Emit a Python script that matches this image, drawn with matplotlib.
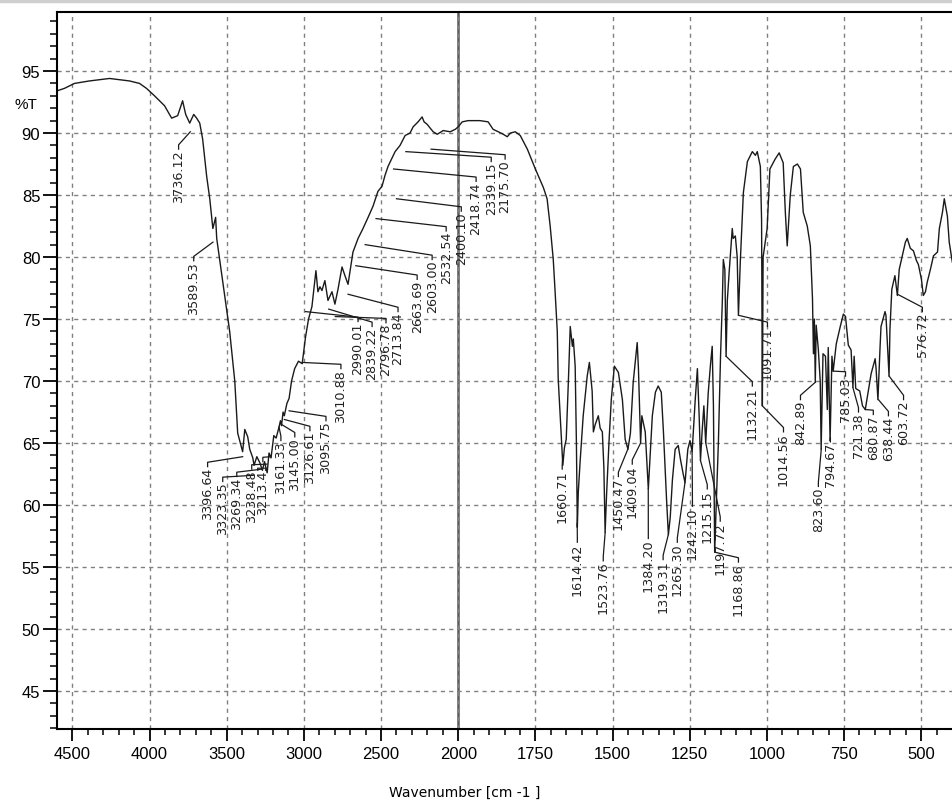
import numpy as np
import matplotlib
matplotlib.use('Agg')
import matplotlib.pyplot as plt
from matplotlib.ticker import FixedLocator
from matplotlib.lines import Line2D

# spectrum: wavenumber (cm-1) and %T
wn_high = [4600, 4552, 4487, 4390, 4260, 4130, 4065, 4020, 3968, 3903, 3857, 3818, 3786, 3766,
           3740, 3714, 3695, 3675, 3656, 3630, 3610, 3590, 3572, 3565, 3526, 3481, 3448, 3429,
           3397, 3383, 3364, 3351, 3331, 3323, 3305, 3285, 3269, 3255, 3238, 3226, 3213, 3195,
           3180, 3161, 3152, 3145, 3135, 3127, 3110, 3096, 3080, 3060, 3035, 3011, 2990, 2970,
           2948, 2922, 2909, 2896, 2883, 2864, 2844, 2818, 2799, 2779, 2753, 2734, 2714, 2682,
           2649, 2617, 2584, 2552, 2520, 2494, 2474, 2455, 2409, 2377, 2344, 2312, 2292, 2260,
           2247, 2234, 2221, 2201, 2182, 2162, 2136, 2097, 2052, 2019, 2000]
t_high = [93.4, 93.6, 94.0, 94.2, 94.4, 94.2, 94.0, 93.6, 93.0, 92.2, 91.2, 91.4, 92.6, 91.5,
          90.8, 91.5, 91.2, 90.8, 89.5, 86.5, 84.7, 82.3, 83.2, 81.5, 78.0, 74.0, 70.0, 65.8,
          64.3, 66.1, 65.5, 64.5, 63.8, 63.2, 63.9, 63.4, 62.8, 63.5, 62.6, 64.2, 63.8, 65.6,
          65.4, 66.3, 66.8, 66.4, 67.5, 67.2, 68.2, 68.6, 70.0, 71.0, 71.6, 71.4, 73.5, 75.0,
          76.0, 78.9, 77.2, 77.6, 77.3, 78.1, 76.5, 77.2, 76.2, 77.4, 79.2, 78.5, 77.8, 80.4,
          81.5, 82.3, 83.2, 84.1, 85.3, 85.7, 86.6, 87.3, 88.5, 89.0, 89.8, 90.0, 90.5, 90.9,
          91.1, 91.3, 90.9, 90.7, 90.4, 90.1, 89.9, 90.2, 90.1, 90.3, 90.5]

wn_low = [1987, 1968, 1929, 1903, 1887, 1870, 1854, 1841, 1831, 1815, 1799, 1776, 1750, 1724,
          1712, 1702, 1692, 1686, 1679, 1676, 1669, 1665, 1661, 1656, 1650, 1643, 1637, 1630,
          1627, 1621, 1617, 1614, 1611, 1605, 1595, 1582, 1575, 1566, 1562, 1556, 1546, 1540,
          1533, 1528, 1524, 1519, 1511, 1504, 1494, 1481, 1468, 1459, 1450, 1442, 1433, 1420,
          1416, 1409, 1405, 1399, 1394, 1388, 1384, 1378, 1371, 1361, 1352, 1342, 1335, 1325,
          1319, 1313, 1306, 1297, 1287, 1280, 1271, 1265, 1256, 1249, 1242, 1232, 1225, 1219,
          1215, 1210, 1204, 1198, 1190, 1183, 1177, 1173, 1169, 1164, 1157, 1150, 1144, 1141,
          1136, 1132, 1128, 1122, 1112, 1109, 1102, 1096, 1092, 1086, 1076, 1063, 1047, 1037,
          1031, 1021, 1017, 1014.5, 1012, 999, 990, 973, 960, 947, 940, 934, 924, 914, 901,
          891, 882, 869, 859, 852, 849, 846, 843, 840, 833, 827, 824, 818, 810, 804, 801, 795,
          789, 785, 775, 762, 752, 745, 736, 727, 721, 717, 712, 699, 690, 681, 671, 662, 649,
          646, 640, 633, 630, 617, 614, 604, 601, 595, 585, 577, 571, 561, 551, 545, 535, 525,
          515, 509, 499, 493, 486, 480, 470, 460, 447, 441, 431, 425, 415, 409, 399]
t_low = [90.9, 91.0, 91.0, 90.9, 90.3, 90.1, 89.9, 89.7, 90.0, 90.1, 89.8, 88.7, 87.1, 85.6,
         84.7, 82.5, 79.8, 77.2, 74.0, 70.2, 67.0, 65.1, 63.2, 64.6, 65.3, 70.0, 74.4, 72.8,
         73.4, 71.2, 65.0, 58.2, 61.0, 63.5, 67.2, 70.4, 71.5, 69.2, 65.9, 66.5, 67.2, 66.2,
         65.9, 63.0, 57.8, 61.0, 65.3, 68.5, 71.2, 70.7, 68.5, 65.3, 64.5, 65.8, 69.9, 73.1,
         71.0, 65.0, 67.2, 66.5, 65.9, 63.2, 61.3, 64.0, 67.2, 69.1, 69.6, 69.1, 65.9, 60.5,
         57.6, 59.0, 62.0, 64.5, 64.8, 63.7, 62.5, 61.8, 64.5, 65.2, 64.3, 68.5, 71.0, 67.0,
         63.6, 65.8, 68.0, 65.0, 69.0, 71.2, 72.8, 68.0, 56.2, 60.0, 65.0, 72.0, 76.6, 79.8,
         79.0, 72.0, 76.5, 78.8, 82.3, 81.5, 81.7, 80.0, 75.3, 79.6, 85.2, 87.7, 88.5, 88.2,
         88.5, 87.3, 83.0, 68.0, 80.0, 82.3, 87.1, 87.9, 88.4, 87.6, 83.6, 80.9, 85.0, 87.3, 87.5,
         87.1, 83.6, 82.5, 80.9, 76.6, 72.2, 75.0, 69.9, 74.5, 72.5, 70.0, 64.5, 72.2, 72.0, 67.7, 72.7, 65.2,
         72.0, 70.8, 73.0, 74.4, 75.4, 75.2, 72.9, 72.5, 69.5, 72.0, 69.4, 69.2, 68.0, 67.7, 69.2, 70.6, 71.8,
         71.0, 68.5, 72.8, 74.4, 75.6, 75.3, 70.4, 74.2, 77.4, 78.5, 76.9, 79.0, 80.1, 81.2, 81.5, 80.7, 80.5,
         79.7, 79.4, 78.2, 76.9, 77.2, 78.0, 79.0, 80.1, 80.4, 82.3, 83.6, 84.7, 83.3, 81.2, 79.6]

# peak labels: text, peak wavenumber, %T where the leader meets the curve
peak_text = ['3736.12', '3589.53', '3396.64', '3323.35', '3269.34', '3238.48', '3213.41',
             '3161.33', '3145.00', '3126.61', '3095.75', '3010.88', '2990.01', '2839.22',
             '2796.78', '2713.84', '2663.69', '2603.00', '2532.54', '2400.10', '2418.74',
             '2339.15', '2175.70',
             '1660.71', '1614.42', '1523.76', '1450.47', '1409.04', '1384.20', '1319.31',
             '1265.30', '1242.10', '1215.15', '1197.72', '1168.86', '1132.21', '1091.71',
             '1014.56', '842.89', '823.60', '794.67', '785.03', '721.38', '680.87', '638.44',
             '603.72', '576.72']
peak_wn = [float(s) for s in peak_text]
peak_t = [90.1, 81.2, 63.9, 62.4, 62.9, 63.3, 63.9, 66.3, 66.5, 66.9, 67.6, 71.5, 75.6, 75.8,
          75.2, 77.0, 79.3, 81.0, 83.1, 84.7, 87.1, 88.5, 88.7,
          64.0, 58.5, 57.8, 64.5, 65.0, 61.3, 57.6, 61.8, 64.3, 63.6, 65.0, 56.2, 72.0, 75.3,
          68.0, 69.9, 64.5, 65.2, 70.8, 69.5, 67.7, 68.5, 70.4, 77.0]
# where each label's top sits
label_wn = [3812, 3714, 3624, 3526, 3435, 3338, 3266, 3149, 3059, 2961, 2857, 2760, 2649, 2558,
            2468, 2390, 2266, 2169, 2078, 1990, 1942, 1893, 1848,
            1663, 1614, 1530, 1481, 1436, 1384, 1336, 1290, 1241, 1193, 1151, 1092, 1047, 998,
            946, 891, 833, 794, 745, 703, 655, 606, 557, 496]
label_t = [88.7, 79.7, 63.1, 61.9, 62.3, 62.9, 63.5, 65.2, 65.5, 66.0, 66.8, 71.0, 74.8, 74.4,
           74.7, 75.6, 78.2, 79.8, 82.1, 83.7, 86.1, 87.7, 87.9,
           62.9, 57.0, 55.5, 62.3, 63.3, 57.3, 55.6, 57.0, 59.9, 61.3, 58.7, 55.4, 69.6, 74.4,
           65.9, 68.5, 61.5, 65.1, 70.4, 67.5, 67.3, 67.2, 68.5, 75.6]

major_ticks = [4500, 4000, 3500, 3000, 2500, 2000, 1750, 1500, 1250, 1000, 750, 500]
minor_ticks = [w for w in range(2100, 4600, 100) if w % 500] + \
              [w for w in range(450, 2000, 50) if w % 250]


# scale change at 2000 cm-1: below it the axis is twice as wide per unit
def fwd(w):
    w = np.asarray(w, dtype=float)
    return np.where(w >= 2000, w, 2 * w - 2000)


def inv(p):
    p = np.asarray(p, dtype=float)
    return np.where(p >= 2000, p, (p + 2000) / 2)


plt.rcParams['font.family'] = ['Liberation Sans', 'DejaVu Sans']

fig = plt.figure(figsize=(9.52, 8.03), dpi=100)
ax = fig.add_axes([57 / 952, 1 - 730 / 803, 1 - 57 / 952, (730 - 13) / 803])
ax.set_xscale('function', functions=(fwd, inv))
ax.set_xlim(4600, 400)
ax.set_ylim(41.94, 99.76)

ax.plot(wn_high + wn_low, t_high + t_low, color='#1a1a1a', lw=1.0)
ax.axvline(2000, color='#5a5a5a', lw=1.8, zorder=1)

for txt, pw, pt, lw_, lt in zip(peak_text, peak_wn, peak_t, label_wn, label_t):
    ax.plot([pw, lw_, lw_], [pt, lt + 0.35, lt], color='#1a1a1a', lw=0.9)
    ax.text(lw_, lt, txt, rotation=90, ha='center', va='top', fontsize=9.2,
            family='DejaVu Sans', color='#222222')

ax.xaxis.set_major_locator(FixedLocator(major_ticks))
ax.xaxis.set_minor_locator(FixedLocator(minor_ticks))
ax.set_xticklabels([str(t) for t in major_ticks])
ax.set_yticks(range(45, 100, 5))
ax.set_yticks(range(42, 100), minor=True)

ax.grid(True, which='major', color='#808080', lw=1.0, ls=(0, (3, 3)))
ax.tick_params(axis='x', which='major', length=8.5, width=1.3, labelsize=12, pad=4)
ax.tick_params(axis='x', which='minor', length=4.5, width=1.1)
ax.tick_params(axis='y', which='major', length=10, width=1.3, labelsize=12, pad=2)
ax.tick_params(axis='y', which='minor', length=5, width=1.1)

for s in ['left', 'bottom', 'top']:
    ax.spines[s].set_linewidth(1.5)
ax.spines['right'].set_visible(False)

fig.text(26 / 952, 1 - 105 / 803, '%T', ha='center', va='center', fontsize=11)
fig.text(465 / 952, 1 - 793 / 803, 'Wavenumber [cm -1 ]', ha='center', va='center',
         fontsize=10, family='DejaVu Sans')
fig.add_artist(Line2D([0, 1], [1 - 1.5 / 803] * 2, color='#cfcfcf', lw=2.5,
                      transform=fig.transFigure))

fig.savefig('out.png', dpi=100)
